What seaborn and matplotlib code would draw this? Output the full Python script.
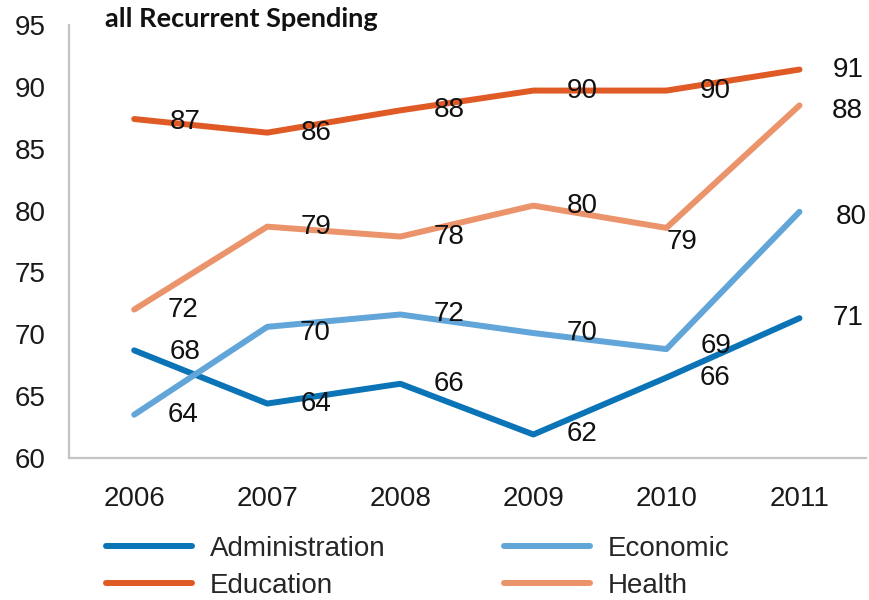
import matplotlib
matplotlib.use("Agg")
import matplotlib.pyplot as plt
import seaborn as sns
import pandas as pd

years = [2006, 2007, 2008, 2009, 2010, 2011]
administration = [68.7, 64.4, 66.0, 61.9, 66.5, 71.3]
economic = [63.5, 70.6, 71.6, 70.1, 68.8, 79.9]
education = [87.4, 86.3, 88.1, 89.7, 89.7, 91.4]
health = [72.0, 78.7, 77.9, 80.4, 78.6, 88.5]

admin_labels = ["68", "64", "66", "62", "66", "71"]
economic_labels = ["64", "70", "72", "70", "69", "80"]
education_labels = ["87", "86", "88", "90", "90", "91"]
health_labels = ["72", "79", "78", "80", "79", "88"]

y_ticks = [60, 65, 70, 75, 80, 85, 90, 95]
title = "all Recurrent Spending"

series = {
    "Administration": (administration, admin_labels),
    "Economic": (economic, economic_labels),
    "Education": (education, education_labels),
    "Health": (health, health_labels),
}
colors = {
    "Administration": "#0b74b7",
    "Economic": "#62a5d8",
    "Education": "#e05a26",
    "Health": "#eb936a",
}

rows = []
for name, (vals, _) in series.items():
    for yr, v in zip(years, vals):
        rows.append({"Year": yr, "Value": v, "Sector": name})
df = pd.DataFrame(rows)

sns.set_theme(style="white")
plt.rcParams["font.family"] = ["Liberation Sans", "DejaVu Sans"]

FS = 20

fig = plt.figure(figsize=(8.69, 6.0), dpi=100)
ax = fig.add_axes([69 / 869, 1 - 458 / 600, (866 - 69) / 869, (458 - 25) / 600])

order = ["Administration", "Economic", "Education", "Health"]
sns.lineplot(data=df, x="Year", y="Value", hue="Sector", hue_order=order,
             palette=colors, linewidth=4.3, ax=ax, legend=True,
             solid_capstyle="round")

ax.set_xlim(2005.51, 2011.5)
ax.set_ylim(60, 95)
ax.set_yticks(y_ticks)
ax.set_xticks(years)
ax.set_xticklabels([str(y) for y in years])
ax.set_xlabel("")
ax.set_ylabel("")
ax.tick_params(axis="y", length=0, pad=17, labelsize=FS, labelcolor="#1a1a1a")
ax.tick_params(axis="x", length=0, pad=20, labelsize=FS, labelcolor="#1a1a1a")
for s in ["top", "right"]:
    ax.spines[s].set_visible(False)
for s in ["left", "bottom"]:
    ax.spines[s].set_color("#c4c4c4")
    ax.spines[s].set_linewidth(1.6)

# label offsets in pixels (dx, dy) -- default shift to the right
default_off = (49, 0)
special = {
    ("Health", 4): (16, -14),
    ("Health", 5): (48, -6),
    ("Economic", 1): (48, -6),
    ("Economic", 4): (50, 3),
    ("Economic", 5): (52, -5),
    ("Administration", 0): (51, -2),
    ("Education", 0): (51, -3),
}
for name, (vals, labs) in series.items():
    for i, (yr, v, lab) in enumerate(zip(years, vals, labs)):
        dx, dy = special.get((name, i), default_off)
        ax.annotate(lab, (yr, v), xytext=(dx, dy), textcoords="offset pixels",
                    ha="center", va="center", fontsize=FS, color="#111111")

handles, labels = ax.get_legend_handles_labels()
ax.get_legend().remove()
hmap = dict(zip(labels, handles))
leg_order = ["Administration", "Education", "Economic", "Health"]
leg = fig.legend([hmap[k] for k in leg_order], leg_order, ncol=2,
                 loc="upper left", bbox_to_anchor=(106 / 869, 1 - 536 / 600),
                 frameon=False, fontsize=FS, handlelength=3.1,
                 handletextpad=0.65, columnspacing=4.25, labelspacing=0.4,
                 borderpad=0, borderaxespad=0)
for line in leg.get_lines():
    line.set_linewidth(4.3)
    line.set_solid_capstyle("round")

fig.text(105 / 869, 1 - 19 / 600, title, fontsize=19.5, fontweight="bold",
         family=["Lato", "DejaVu Sans"], va="center", ha="left", color="#111111")

fig.savefig("out.png", dpi=100)
